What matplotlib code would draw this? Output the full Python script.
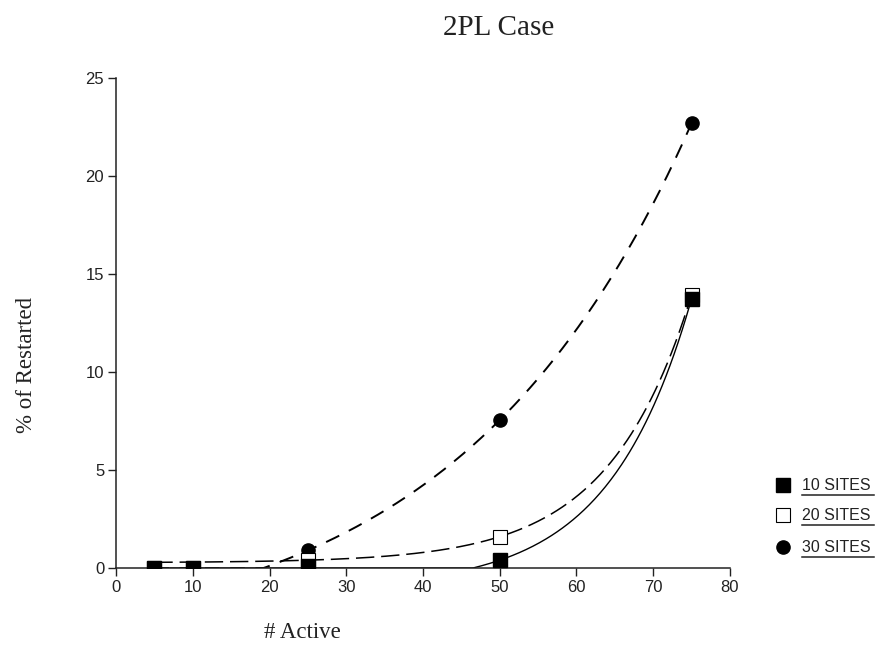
import numpy as np
import matplotlib
matplotlib.use("Agg")
import matplotlib.pyplot as plt
from matplotlib.lines import Line2D

# data
active = [5, 10, 25, 50, 75]
sites10 = [0.0, 0.0, 0.1, 0.4, 13.75]
sites20 = [0.0, 0.0, 0.4, 1.6, 13.95]
sites30 = [0.0, 0.0, 0.9, 7.55, 22.7]
labels = ["10 SITES", "20 SITES", "30 SITES"]
xticks = [0, 10, 20, 30, 40, 50, 60, 70, 80]
yticks = [0, 5, 10, 15, 20, 25]

xs = np.linspace(5, 75, 400)


# trend curves: y = c + a*exp(b*x), fitted to the measured points
def exp_rate(x3, y3):
    # growth rate from three equally spaced points
    u = (y3[2] - y3[1]) / (y3[1] - y3[0])
    return np.log(u) / (x3[1] - x3[0])


def exp_curve(b, x2, y2):
    a = (y2[1] - y2[0]) / (np.exp(b * x2[1]) - np.exp(b * x2[0]))
    c = y2[0] - a * np.exp(b * x2[0])
    return np.clip(c + a * np.exp(b * xs), 0, None)


b20 = exp_rate(active[2:], sites20[2:])
b30 = exp_rate(active[2:], sites30[2:])
curve10 = exp_curve(b20, active[3:], sites10[3:])  # same rate as 20 sites
curve20 = exp_curve(b20, active[3:], sites20[3:])
curve30 = exp_curve(b30, active[3:], sites30[3:])

fig = plt.figure(figsize=(8.91, 6.52), dpi=100)
ax = fig.add_axes([0.1302, 0.1288, 0.6891, 0.7515])

ax.plot(xs, curve10, color="black", lw=1.0, zorder=2)
ax.plot(xs, curve20, color="black", lw=1.1, dashes=(12, 4.5), zorder=2)
ax.plot(xs, curve30, color="black", lw=1.4, dashes=(7.5, 5.5), zorder=2)

ax.plot(active, sites30, "o", color="black", ms=9.5, zorder=3)
ax.plot(active, sites20, "s", mfc="white", mec="black", mew=0.8, ms=10.5,
        zorder=4)
ax.plot(active, sites10, "s", color="black", ms=10.5, zorder=5)

ax.set_xlim(0, 80)
ax.set_ylim(0, 25)
ax.set_xticks(xticks)
ax.set_yticks(yticks)
ax.spines["top"].set_visible(False)
ax.spines["right"].set_visible(False)
for s in ("left", "bottom"):
    ax.spines[s].set_linewidth(1.1)
    ax.spines[s].set_color("#222222")
ax.tick_params(direction="out", length=5.5, width=1.0, labelsize=12,
               colors="#222222", pad=3)
for lab in ax.get_xticklabels() + ax.get_yticklabels():
    lab.set_family(["Liberation Sans", "DejaVu Sans"])

serif = ["Liberation Serif", "DejaVu Serif"]
fig.text(499 / 891, 1 - 28 / 652, "2PL Case", ha="center", va="center",
         fontsize=21, family=serif, color="#222222")
fig.text(302 / 891, 1 - 633 / 652, "# Active", ha="center", va="center",
         fontsize=16.5, family=serif, color="#222222")
fig.text(27 / 891, 1 - 365 / 652, "% of Restarted", ha="center",
         va="center", rotation=90, fontsize=16.5, family=serif,
         color="#222222")

# legend drawn by hand: marker, underlined label
styles = [
    dict(marker="s", color="black", ms=9.5),
    dict(marker="s", mfc="white", mec="black", ms=9.5, mew=0.8),
    dict(marker="o", color="black", ms=9.5),
]
rows_y = [485, 515, 547]
fig.canvas.draw()
inv = fig.transFigure.inverted()
for lab, st, ry in zip(labels, styles, rows_y):
    fy = 1 - ry / 652
    fig.add_artist(Line2D([783 / 891], [fy], ls="none",
                          transform=fig.transFigure, **st))
    t = fig.text(802 / 891, fy, lab, ha="left", va="center", fontsize=11.5,
                 family=["Liberation Sans", "DejaVu Sans"], color="#222222")
    bb = t.get_window_extent(renderer=fig.canvas.get_renderer())
    (x0, y0), (x1, _) = inv.transform([(bb.x0, bb.y0 - 2), (bb.x1 + 3, bb.y0)])
    fig.add_artist(Line2D([x0, x1], [y0, y0], color="#222222", lw=1.1,
                          transform=fig.transFigure))

fig.savefig("out.png", dpi=100)
